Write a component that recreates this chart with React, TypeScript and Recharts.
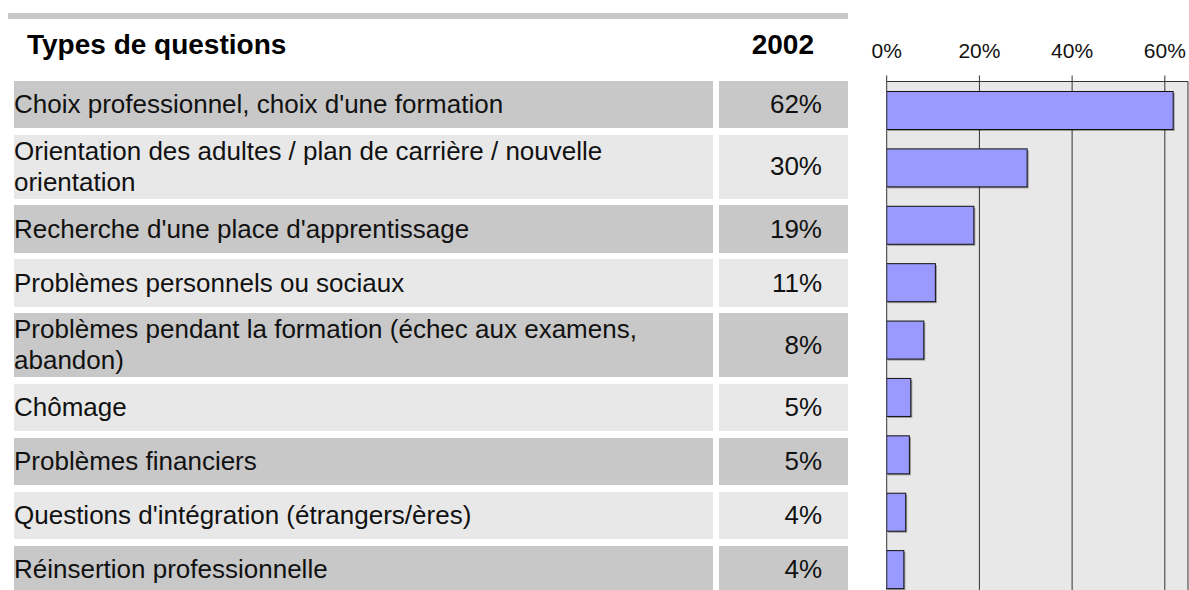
import { BarChart, Bar, XAxis, YAxis, CartesianGrid } from "recharts";

// Types de questions, 2002 (share of consultations)
const categories = [
  "Choix professionnel, choix d'une formation",
  "Orientation des adultes / plan de carrière / nouvelle\norientation",
  "Recherche d'une place d'apprentissage",
  "Problèmes personnels ou sociaux",
  "Problèmes pendant la formation (échec aux examens,\nabandon)",
  "Chômage",
  "Problèmes financiers",
  "Questions d'intégration (étrangers/ères)",
  "Réinsertion professionnelle",
];
const values2002 = [61.8, 30.3, 18.8, 10.5, 8.0, 5.2, 4.9, 4.1, 3.7];
const valueLabels = ["62%", "30%", "19%", "11%", "8%", "5%", "5%", "4%", "4%"];
const axisTicks = [0, 20, 40, 60];

const DARK = "#c8c8c8";
const LIGHT = "#e8e8e8";
const FONT = "'Liberation Sans', Arial, Helvetica, sans-serif";

const chartData = categories.map((name, i) => ({ name, value: values2002[i] }));

// bar with a small grey drop shadow, like the original
function ShadowBar(props: any) {
  const { x, y, width, height, fill } = props;
  if (!width || width <= 0) return null;
  return (
    <g>
      <rect x={x + 1.5} y={y + 1.5} width={width} height={height} fill="#000" fillOpacity={0.35} />
      <rect x={x} y={y} width={width} height={height} fill={fill} stroke="#111" strokeWidth={1} />
    </g>
  );
}

function Table() {
  let top = 81;
  const rows = categories.map((label, i) => {
    const twoLines = label.includes("\n");
    const h = twoLines ? 63.7 : 47.3;
    const bg = i % 2 === 0 ? DARK : LIGHT;
    const rowTop = top;
    top += h + 6.7;
    return (
      <div key={label}>
        <div
          style={{
            position: "absolute",
            left: 14,
            top: rowTop,
            width: 698.7,
            height: h,
            background: bg,
            display: "flex",
            flexDirection: "column",
            justifyContent: "center",
            overflow: "visible",
          }}
        >
          <div
            style={{
              fontSize: 26,
              lineHeight: "31px",
              whiteSpace: "pre-line",
              color: "#111",
            }}
          >
            {label}
          </div>
        </div>
        <div
          style={{
            position: "absolute",
            left: 719,
            top: rowTop,
            width: 129,
            height: h,
            background: bg,
            display: "flex",
            alignItems: "center",
            justifyContent: "flex-end",
            boxSizing: "border-box",
            paddingRight: 26,
            fontSize: 26,
            color: "#111",
          }}
        >
          {valueLabels[i]}
        </div>
      </div>
    );
  });
  return <>{rows}</>;
}

export default function App() {
  return (
    <div
      style={{
        position: "fixed",
        left: 0,
        top: 0,
        width: 1189,
        height: 590,
        overflow: "hidden",
        background: "#fff",
        fontFamily: FONT,
      }}
    >
      <div style={{ position: "absolute", left: 8, top: 12.7, width: 840, height: 6, background: DARK }} />
      <div
        style={{
          position: "absolute",
          left: 27,
          top: 31,
          fontSize: 28,
          lineHeight: "28px",
          fontWeight: "bold",
          color: "#000",
        }}
      >
        Types de questions
      </div>
      <div
        style={{
          position: "absolute",
          right: 1189 - 814,
          top: 31,
          fontSize: 28,
          lineHeight: "28px",
          fontWeight: "bold",
          color: "#000",
        }}
      >
        2002
      </div>
      <Table />
      <div style={{ position: "absolute", left: 850, top: 0 }}>
        <BarChart
          width={339}
          height={598}
          data={chartData}
          layout="vertical"
          margin={{ top: 51.5, right: 1, bottom: 0, left: 36.7 }}
          barSize={38}
        >
          <CartesianGrid horizontal={false} stroke="#333" fill={LIGHT} fillOpacity={1} />
          <XAxis
            type="number"
            orientation="top"
            domain={[0, 65]}
            ticks={axisTicks}
            tickFormatter={(v) => `${v}%`}
            height={30}
            tickSize={6}
            tickMargin={18}
            axisLine={{ stroke: "#333" }}
            tickLine={{ stroke: "#333" }}
            tick={{ fill: "#111", fontSize: 21 }}
            allowDataOverflow
          />
          <YAxis
            type="category"
            dataKey="name"
            width={0}
            tick={false}
            tickLine={false}
            axisLine={{ stroke: "#000", strokeWidth: 1.5 }}
          />
          <Bar dataKey="value" fill="#9999ff" shape={ShadowBar} isAnimationActive={false} />
        </BarChart>
      </div>
    </div>
  );
}
